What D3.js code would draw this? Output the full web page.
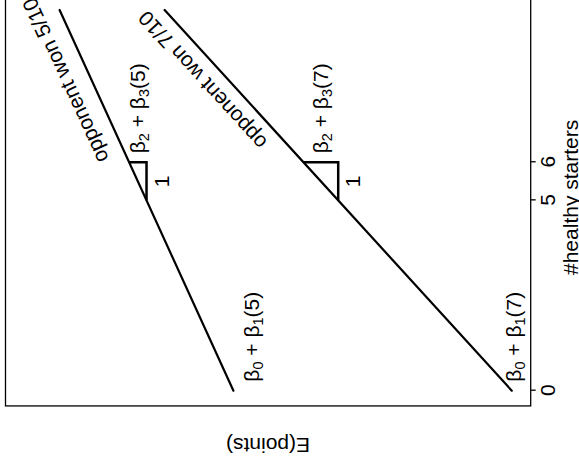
<!DOCTYPE html>
<html>
<head>
<meta charset="utf-8">
<script src="https://cdn.jsdelivr.net/npm/d3@7"></script>
<style>
  body { margin: 0; background: #fff; }
  svg { display: block; }
  text { font-family: "Liberation Sans", Arial, sans-serif; font-size: 21px; fill: #000; }
  .line { fill: none; stroke: #000; stroke-width: 2.2; stroke-linecap: round; }
  .tri { fill: none; stroke: #000; stroke-width: 2.5; stroke-linejoin: miter; }
  .box { fill: none; stroke: #000; stroke-width: 1.3; }
</style>
</head>
<body>
<script>

// data
var healthyTicks = [0, 5, 6];                    // x tick labels
var startersRange = [0, 10];                     // lines drawn over this range
var oppWon = [5, 7];                             // games won by opponent (out of 10)
var intercepts = [56.6, 3.6];                    // beta0 + beta1(w), E(points) at 0 starters
var slopes = [3.31, 6.61];                       // beta2 + beta3(w), per healthy starter
var lineLabels = ["opponent won 5/10", "opponent won 7/10"];

// label nudges (layout only)
var interceptDrop = [26, 9.5];

function fit(i, s) { return intercepts[i] + slopes[i] * s; }

// the plot is drawn in its normal orientation, then turned 90 degrees
var W = 470, H = 579;
var svg = d3.select("body").append("svg")
    .attr("width", 579)
    .attr("height", 470);

var g = svg.append("g")
    .attr("transform", "translate(0," + W + ") rotate(-90)");

var x = d3.scaleLinear().domain(startersRange).range([79.3, 460]);
var y = d3.scaleLinear().domain([0, 100]).range([530.7, 5.5]);

// plot box (x padded 4% like R)
var pad = 0.04 * (startersRange[1] - startersRange[0]);
g.append("rect")
    .attr("class", "box")
    .attr("x", x(startersRange[0] - pad))
    .attr("y", y(100))
    .attr("width", x(startersRange[1] + pad) - x(startersRange[0] - pad))
    .attr("height", y(0) - y(100));

// bottom axis
var axis = g.append("g")
    .attr("transform", "translate(0," + y(0) + ")")
    .call(d3.axisBottom(x).tickValues(healthyTicks).tickSize(5).tickSizeOuter(0).tickPadding(4.5));
axis.select(".domain").remove();
axis.selectAll("line").attr("stroke", "#000").attr("stroke-width", 1.3);
axis.selectAll("text")
    .attr("font-size", 21)
    .attr("font-family", "Liberation Sans, Arial, sans-serif")
    .attr("fill", "#000");

// axis titles
g.append("text")
    .attr("x", (x(startersRange[0] - pad) + x(startersRange[1] + pad)) / 2 + 3)
    .attr("y", 577.5)
    .attr("text-anchor", "middle")
    .text("#healthy starters");

g.append("text")
    .attr("transform", "translate(32," + (y(0) + y(100)) / 2 + ") rotate(-90)")
    .attr("text-anchor", "middle")
    .text("E(points)");

var line = d3.line()
    .x(function(d) { return x(d[0]); })
    .y(function(d) { return y(d[1]); });

function betaLabel(sel, a, b, w) {
    sel.append("tspan").text("\u03b2");
    sel.append("tspan").attr("font-size", "14.5px").attr("dy", 4).text(a);
    sel.append("tspan").attr("dy", -4).text(" + \u03b2");
    sel.append("tspan").attr("font-size", "14.5px").attr("dy", 4).text(b);
    sel.append("tspan").attr("dy", -4).text("(" + w + ")");
}

oppWon.forEach(function(w, i) {
    // fitted line
    g.append("path")
        .attr("class", "line")
        .attr("d", line(startersRange.map(function(s) { return [s, fit(i, s)]; })));

    // label along the line
    var ang = Math.atan2(y(fit(i, startersRange[1])) - y(fit(i, startersRange[0])),
                         x(startersRange[1]) - x(startersRange[0])) * 180 / Math.PI;
    var lx = x(8.15), ly = y(fit(i, 8.15)) - 26.5;
    g.append("text")
        .attr("transform", "translate(" + lx + "," + ly + ") rotate(" + ang + ")")
        .attr("text-anchor", "middle")
        .attr("dy", "0.35em")
        .text(lineLabels[i]);

    // slope triangle between 5 and 6 starters
    g.append("path")
        .attr("class", "tri")
        .attr("d", line([[5, fit(i, 5)], [6, fit(i, 5)], [6, fit(i, 6)]]));

    g.append("text")
        .attr("x", x(5.5))
        .attr("y", y(fit(i, 5)) + 22)
        .attr("text-anchor", "middle")
        .text("1");

    var slopeLab = g.append("text")
        .attr("x", x(6) + 9)
        .attr("y", (y(fit(i, 5)) + y(fit(i, 6))) / 2 + 7);
    betaLabel(slopeLab, "2", "3", w);

    // intercept label
    var intLab = g.append("text")
        .attr("x", x(0) + 9)
        .attr("y", y(fit(i, 0)) + interceptDrop[i]);
    betaLabel(intLab, "0", "1", w);
});

</script>
</body>
</html>
